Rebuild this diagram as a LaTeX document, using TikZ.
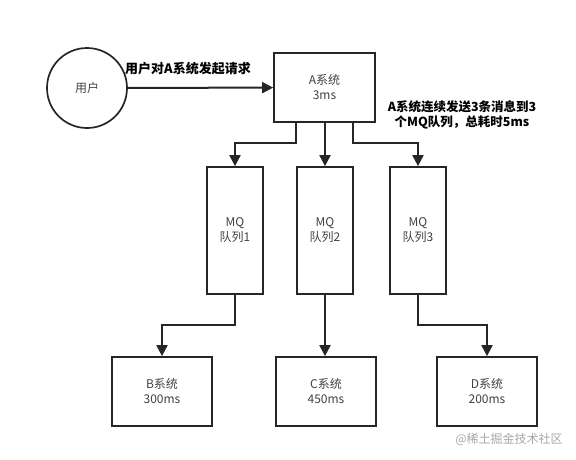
\documentclass[tikz,border=0pt]{standalone}
\usepackage{fontspec}
\setmainfont{Noto Sans CJK SC}
\usetikzlibrary{arrows.meta}
\begin{document}
\begin{tikzpicture}[x=1pt,y=-1pt,
  box/.style={draw=black!85,line width=1.7pt,inner sep=0pt,font=\fontsize{12}{15}\selectfont,text=black!75,align=center},
  conn/.style={draw=black!85,line width=2pt,-{Triangle[length=11pt,width=11pt]}},
  lbl/.style={font=\bfseries\fontsize{12.5}{15.5}\selectfont,align=center,text=black}]
\useasboundingbox (0,0) rectangle (576,459);
\node[box,circle,minimum size=80pt] (user) at (87,88) {用户};
\node[box,minimum width=101pt,minimum height=69pt] (A) at (324.5,87.5) {A系统\\3ms};
\node[box,minimum width=56pt,minimum height=127pt] (q1) at (235,230.5) {MQ\\队列1};
\node[box,minimum width=56pt,minimum height=127pt] (q2) at (325,230.5) {MQ\\队列2};
\node[box,minimum width=56pt,minimum height=127pt] (q3) at (418,230.5) {MQ\\队列3};
\node[box,minimum width=100pt,minimum height=69pt] (B) at (162,391.5) {B系统\\300ms};
\node[box,minimum width=100pt,minimum height=69pt] (C) at (326,391.5) {C系统\\450ms};
\node[box,minimum width=100pt,minimum height=69pt] (D) at (487,391.5) {D系统\\200ms};
\draw[conn] (user) -- (A);
\node[lbl,font=\bfseries\fontsize{13}{15.5}\selectfont] (l1) at (188,69) {用户对A系统发起请求};
\node[lbl] (l2) at (462,115) {A系统连续发送3条消息到3\\个MQ队列，总耗时5ms};
\coordinate (a1) at (296,122);
\coordinate (a3) at (353,122);
\draw[conn] (a1) -- (296,143) -| (q1.north);
\draw[conn] (A.south -| q2.north) -- (q2.north);
\draw[conn] (a3) -- (353,143) -| (q3.north);
\draw[conn] (q1.south) -- (235,325) -| (B.north);
\draw[conn] (q2.south) -- (q2.south |- C.north);
\draw[conn] (q3.south) -- (418,325) -| (D.north);
\node[font=\fontsize{12}{14}\selectfont,text=black!35] (wm) at (509,439) {@稀土掘金技术社区};
\end{tikzpicture}
\end{document}
